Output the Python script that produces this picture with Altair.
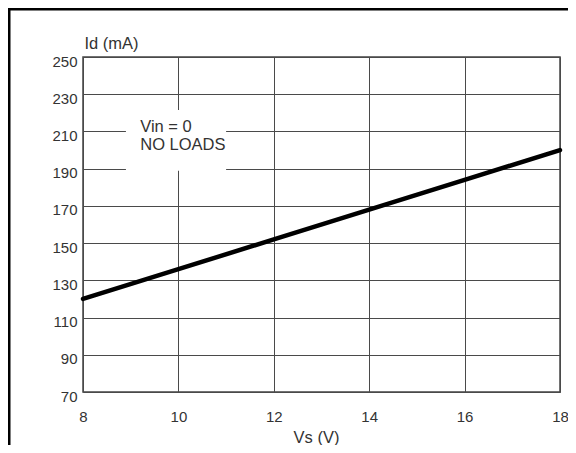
import altair as alt
import pandas as pd

# data
vs = [8, 10, 12, 14, 16, 18]
id_ma = [120, 136, 152, 168, 184, 200]

x_ticks = [8, 10, 12, 14, 16, 18]
y_ticks = [70, 90, 110, 130, 150, 170, 190, 210, 230, 250]

note_lines = ["Vin = 0", "NO LOADS"]
note_pos = [9.2, 212.5]
note_box = [8.9, 11.0, 188.9, 221.5]  # x1, x2, y1, y2

FONT = "Liberation Sans"
GRID = "#4a4a4a"
TITLE_SIZE = 16.5

df = pd.DataFrame({"Vs": vs, "Id": id_ma})
box_df = pd.DataFrame({"x1": [note_box[0]], "x2": [note_box[1]],
                       "y1": [note_box[2]], "y2": [note_box[3]]})
note_df = pd.DataFrame({"x": [note_pos[0]], "y": [note_pos[1]], "t": [note_lines]})

xscale = alt.Scale(domain=[8, 18], nice=False, zero=False)
yscale = alt.Scale(domain=[70, 250], nice=False, zero=False)

xaxis = alt.Axis(values=x_ticks, title="Vs (V)", grid=True, gridColor=GRID, gridOpacity=1,
                 gridWidth=1, domain=False, ticks=False,
                 labelPadding=17, labelFontSize=15, labelFont=FONT, labelColor="#333",
                 titleFont=FONT, titleFontSize=TITLE_SIZE, titleFontWeight="normal", titleColor="#333",
                 titleX=233, titleY=45, titleAnchor="middle", titleBaseline="middle",
                 labelFlush=False, labelOverlap=False, labelBound=False)
yaxis = alt.Axis(values=y_ticks, title="Id (mA)", grid=True, gridColor=GRID, gridOpacity=1,
                 gridWidth=1, domain=False, ticks=False,
                 labelPadding=6, labelFontSize=15, labelFont=FONT, labelColor="#333",
                 labelOffset=4, labelBaseline="middle",
                 titleFont=FONT, titleFontSize=TITLE_SIZE, titleFontWeight="normal", titleColor="#333",
                 titleAngle=0, titleX=1, titleY=-14, titleAlign="left", titleBaseline="middle",
                 labelFlush=False, labelOverlap=False, labelBound=False)

line = alt.Chart(df).mark_line(color="black", strokeWidth=4.5, strokeCap="round").encode(
    x=alt.X("Vs:Q", scale=xscale, axis=xaxis),
    y=alt.Y("Id:Q", scale=yscale, axis=yaxis),
)

box = alt.Chart(box_df).mark_rect(color="white").encode(
    x=alt.X("x1:Q", scale=xscale, axis=xaxis), x2="x2:Q",
    y=alt.Y("y1:Q", scale=yscale, axis=yaxis), y2="y2:Q",
)

note = alt.Chart(note_df).mark_text(align="left", baseline="middle", font=FONT,
                                    fontSize=TITLE_SIZE, color="#333", lineHeight=18).encode(
    x=alt.X("x:Q", scale=xscale, axis=xaxis), y=alt.Y("y:Q", scale=yscale, axis=yaxis), text="t"
)

frame_top = alt.Chart(pd.DataFrame({"a": [0]})).mark_rule(color="black", strokeWidth=3).encode(
    x=alt.value(-75), x2=alt.value(485), y=alt.value(-48)
)
frame_left = alt.Chart(pd.DataFrame({"a": [0]})).mark_rule(color="black", strokeWidth=3).encode(
    x=alt.value(-74), y=alt.value(-49), y2=alt.value(400)
)

chart = alt.layer(box, note, line, frame_top, frame_left).properties(
    width=477, height=335,
    background="white",
    autosize=alt.AutoSizeParams(type="none"),
    padding={"left": 75, "top": 49, "right": 8, "bottom": 53},
).configure_view(
    stroke="#444", strokeWidth=1.5
)

chart.save("out.html", embed_options={"renderer": "svg", "actions": False})
